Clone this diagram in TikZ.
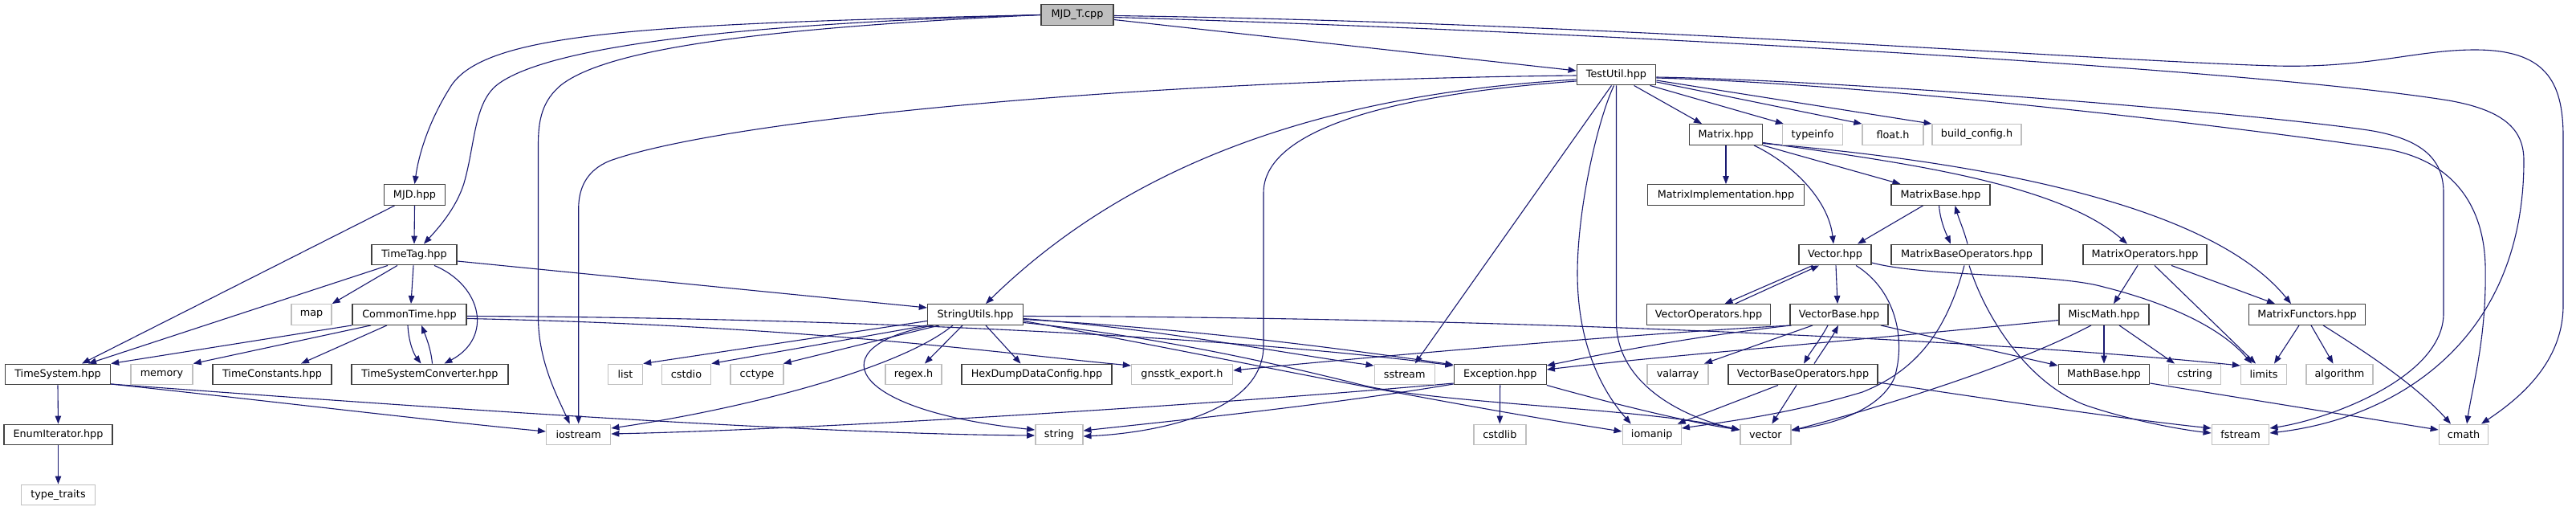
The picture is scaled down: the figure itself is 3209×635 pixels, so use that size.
\documentclass[tikz,border=0pt]{standalone}
\usepackage{fontspec}
\setmainfont{DejaVu Sans}
\usetikzlibrary{arrows.meta,backgrounds}
\definecolor{edgec}{HTML}{191970}
\definecolor{projc}{HTML}{404040}
\definecolor{sysc}{HTML}{BFBFBF}
\definecolor{rootc}{HTML}{BFBFBF}
\newcommand{\dxfont}{\fontsize{12.8pt}{15pt}\selectfont}
\tikzset{
  nbox/.style={rectangle, line width=1.4pt, minimum height=25.5pt, inner sep=0pt, font=\dxfont, fill=white},
  proj/.style={nbox, draw=projc},
  sys/.style={nbox, draw=sysc},
  rootn/.style={nbox, draw=projc, fill=rootc},
  dep/.style={draw=edgec, line width=1.1pt, -{Triangle[length=10pt,width=7.5pt]}}
}
\begin{document}
\begin{tikzpicture}[x=1pt,y=-1pt]
\useasboundingbox (0,0) rectangle (3209,635);
% row 0-1
\node[rootn, minimum width=90pt] (root) at (1342,18.5) {MJD\_T.cpp};
\node[proj, minimum width=98.5pt] (testutil) at (2013.5,93) {TestUtil.hpp};
% row 2
\node[proj, minimum width=91pt] (matrix) at (2150,167.5) {Matrix.hpp};
\node[sys, minimum width=75pt] (typeinfo) at (2258,167.5) {typeinfo};
\node[sys, minimum width=76pt] (floath) at (2358,167.5) {float.h};
\node[sys, minimum width=111pt] (buildconfig) at (2462.5,167.5) {build\_config.h};
% row 3
\node[proj, minimum width=76pt] (mjd) at (516.5,242.5) {MJD.hpp};
\node[proj, minimum width=195pt] (matriximpl) at (2150,242.5) {MatrixImplementation.hpp};
\node[proj, minimum width=123pt] (matrixbase) at (2417.5,242.5) {MatrixBase.hpp};
% row 4
\node[proj, minimum width=106pt] (timetag) at (516,317) {TimeTag.hpp};
\node[proj, minimum width=90pt] (vectorhpp) at (2286,317) {Vector.hpp};
\node[proj, minimum width=188pt] (matrixbaseops) at (2450,317) {MatrixBaseOperators.hpp};
\node[proj, minimum width=154pt] (matrixops) at (2672,317) {MatrixOperators.hpp};
% row 5
\node[sys, minimum width=50pt] (map) at (388,391.5) {map};
\node[proj, minimum width=142pt] (commontime) at (510,391.5) {CommonTime.hpp};
\node[proj, minimum width=119pt] (stringutils) at (1215,391.5) {StringUtils.hpp};
\node[proj, minimum width=154pt] (vectorops) at (2128.5,391.5) {VectorOperators.hpp};
\node[proj, minimum width=122pt] (vectorbase) at (2291,391.5) {VectorBase.hpp};
\node[proj, minimum width=112pt] (miscmath) at (2621,391.5) {MiscMath.hpp};
\node[proj, minimum width=145pt] (matrixfunctors) at (2874,391.5) {MatrixFunctors.hpp};
% row 6
\node[proj, minimum width=131pt] (timesystem) at (72,466) {TimeSystem.hpp};
\node[sys, minimum width=77pt] (memory) at (201.5,466) {memory};
\node[proj, minimum width=148pt] (timeconst) at (339,466) {TimeConstants.hpp};
\node[proj, minimum width=195pt] (tsconv) at (535.5,466) {TimeSystemConverter.hpp};
\node[sys, minimum width=43pt] (list) at (779,466) {list};
\node[sys, minimum width=61pt] (cstdio) at (855,466) {cstdio};
\node[sys, minimum width=66pt] (cctype) at (943,466) {cctype};
\node[sys, minimum width=70pt] (regex) at (1138,466) {regex.h};
\node[proj, minimum width=187pt] (hexdump) at (1291.5,466) {HexDumpDataConfig.hpp};
\node[sys, minimum width=126pt] (gnsstk) at (1472.5,466) {gnsstk\_export.h};
\node[sys, minimum width=75pt] (sstream) at (1749.7,466) {sstream};
\node[proj, minimum width=115pt] (exception) at (1868.7,466) {Exception.hpp};
\node[sys, minimum width=76pt] (valarray) at (2090,466) {valarray};
\node[proj, minimum width=186pt] (vbops) at (2246,466) {VectorBaseOperators.hpp};
\node[proj, minimum width=113.5pt] (mathbase) at (2621,466) {MathBase.hpp};
\node[sys, minimum width=65pt] (cstring) at (2734,466) {cstring};
\node[sys, minimum width=57pt] (limits) at (2820,466) {limits};
\node[sys, minimum width=83pt] (algorithm) at (2914.5,466) {algorithm};
% row 7
\node[proj, minimum width=135pt] (enumiter) at (72.5,541) {EnumIterator.hpp};
\node[sys, minimum width=80pt] (iostream) at (720.7,541) {iostream};
\node[sys, minimum width=59pt] (string) at (1319.3,541) {string};
\node[sys, minimum width=65pt] (cstdlib) at (1868.3,541) {cstdlib};
\node[sys, minimum width=73pt] (iomanip) at (2057.7,541) {iomanip};
\node[sys, minimum width=63pt] (vector) at (2199.3,541) {vector};
\node[sys, minimum width=71.5pt] (fstream) at (2791,541) {fstream};
\node[sys, minimum width=61.5pt] (cmath) at (3069,541) {cmath};
% row 8
\node[sys, minimum width=92pt] (typetraits) at (72.5,616) {type\_traits};

\begin{scope}[on background layer]
\fill[white] (0,0) rectangle (3209,635);
% MJD_T.cpp
\draw[dep] (root.west) .. controls (800,30) and (600,40) .. (560,110) .. controls (535,150) and (522,190) .. (mjd.north);
\draw[dep] (root.west) .. controls (900,30) and (680,60) .. (620,105) .. controls (590,128) and (592,180) .. (578,228) .. controls (568,260) and (545,285) .. ([xshift=12pt]timetag.north);
\draw[dep] (root.west) .. controls (950,35) and (760,60) .. (700,105) .. controls (675,125) and (670.5,150) .. (670.5,180) -- (670.5,395) .. controls (670.5,450) and (695,495) .. ([xshift=-11pt]iostream.north);
\draw[dep] ([yshift=-6pt]root.east) -- ([yshift=5pt]testutil.west);
\draw[dep] ([yshift=-3pt]root.east) .. controls (2000,40) and (2800,85) .. (3050,125) .. controls (3125,138) and (3144,165) .. (3144,200) .. controls (3144,420) and (2990,520) .. ([yshift=2pt]fstream.east);
\draw[dep] ([yshift=-1pt]root.east) .. controls (2000,28) and (2600,75) .. (2834,82) .. controls (2950,85) and (3010,62) .. (3083,62) .. controls (3170,62) and (3193,100) .. (3193,170) -- (3193,380) .. controls (3193,450) and (3140,495) .. ([xshift=22pt]cmath.north);
% TestUtil.hpp
\draw[dep] ([yshift=-6pt]testutil.west) .. controls (1600,120) and (1380,230) .. ([xshift=13pt]stringutils.north);
\draw[dep] ([yshift=-1pt]testutil.west) .. controls (1400,100) and (900,150) .. (760,200) .. controls (730,212) and (720.7,235) .. (720.7,260) -- (iostream.north);
\draw[dep] ([yshift=-8pt]testutil.west) .. controls (1700,120) and (1574,170) .. (1574,240) -- (1574,430) .. controls (1574,520) and (1420,540) .. ([yshift=-2pt]string.east);
\draw[dep] ([xshift=-6pt]testutil.south) -- ([xshift=13pt]sstream.north);
\draw[dep] ([xshift=-3pt]testutil.south) .. controls (1990,150) and (1965,260) .. (1965,340) .. controls (1965,420) and (1990,480) .. ([xshift=-26pt]iomanip.north);
\draw[dep] (testutil.south) -- (2013.5,400) .. controls (2013.5,480) and (2100,520) .. ([yshift=6pt]vector.west);
\draw[dep] ([xshift=22pt]testutil.south) -- ([xshift=-30pt]matrix.north);
\draw[dep] ([xshift=42pt]testutil.south) -- ([xshift=2pt]typeinfo.north west);
\draw[dep] ([yshift=-9pt]testutil.east) -- (floath.north west);
\draw[dep] ([yshift=-7pt]testutil.east) -- (buildconfig.north west);
\draw[dep] ([yshift=-3pt]testutil.east) .. controls (2300,100) and (2800,140) .. (2950,162) .. controls (3020,173) and (3044,200) .. (3044,240) -- (3044,390) .. controls (3044,470) and (2900,522) .. ([yshift=8pt]fstream.east);
\draw[dep] ([yshift=-4pt]testutil.east) .. controls (2350,105) and (2800,160) .. (2970,185) .. controls (3060,200) and (3094,260) .. (3096,330) .. controls (3098,420) and (3080,480) .. ([xshift=4pt]cmath.north);
% Matrix.hpp
\draw[dep] (matrix.south) -- (matriximpl.north);
\draw[dep] ([xshift=35pt]matrix.south) .. controls (2235,205) and (2278,250) .. ([xshift=-2pt]vectorhpp.north);
\draw[dep] (matrix.south east) -- ([xshift=-50pt]matrixbase.north);
\draw[dep] ([yshift=-10pt]matrix.east) .. controls (2350,200) and (2560,225) .. ([xshift=-22pt]matrixops.north);
\draw[dep] ([yshift=-11pt]matrix.east) .. controls (2450,200) and (2750,250) .. ([xshift=-20pt]matrixfunctors.north);
% MatrixBase / MatrixBaseOperators
\draw[dep] ([xshift=-22pt]matrixbase.south) -- ([xshift=28pt]vectorhpp.north);
\draw[dep] ([xshift=-2pt]matrixbase.south) .. controls (2417,275) and (2424,290) .. ([xshift=-20pt]matrixbaseops.north);
\draw[dep] ([xshift=1pt]matrixbaseops.north) .. controls (2446,285) and (2440,272) .. ([xshift=18pt]matrixbase.south);
\draw[dep] ([xshift=-3pt]matrixbaseops.south) .. controls (2425,410) and (2390,460) .. (2320,488) .. controls (2230,515) and (2150,525) .. ([yshift=8pt]iomanip.east);
\draw[dep] ([xshift=3pt]matrixbaseops.south) .. controls (2475,400) and (2530,480) .. (2600,505) .. controls (2660,525) and (2720,535) .. ([yshift=2pt]fstream.west);
% Vector.hpp
\draw[dep] ([xshift=1pt]vectorhpp.south) -- ([xshift=-2pt]vectorbase.north);
\draw[dep] ([xshift=-28pt]vectorhpp.south) -- ([xshift=20pt]vectorops.north);
\draw[dep] ([xshift=33pt]vectorops.north) -- ([xshift=-20pt]vectorhpp.south);
\draw[dep] ([xshift=26pt]vectorhpp.south) .. controls (2360,360) and (2375,420) .. (2360,470) .. controls (2340,515) and (2270,530) .. ([yshift=6pt]vector.east);
\draw[dep] ([yshift=-10pt]vectorhpp.east) .. controls (2400,345) and (2560,340) .. (2620,357) .. controls (2680,372) and (2760,400) .. ([xshift=-15pt]limits.north);
% VectorBase.hpp
\draw[dep] ([xshift=-14pt]vectorbase.south) .. controls (2268,422) and (2256,437) .. ([xshift=1pt]vbops.north);
\draw[dep] ([xshift=14pt]vbops.north) .. controls (2270,437) and (2282,420) .. ([xshift=-1pt]vectorbase.south);
\draw[dep] ([xshift=-33pt]vectorbase.south) -- ([xshift=33pt]valarray.north);
\draw[dep] ([xshift=2pt]vectorbase.south west) .. controls (2100,420) and (2000,440) .. ([yshift=11pt]exception.east);
\draw[dep] ([xshift=2pt]vectorbase.south west) .. controls (2000,418) and (1700,445) .. ([yshift=5pt]gnsstk.east);
\draw[dep] ([xshift=52pt]vectorbase.south) -- ([yshift=11pt]mathbase.west);
% VectorBaseOperators.hpp
\draw[dep] ([xshift=-31pt]vbops.south) -- ([xshift=32pt]iomanip.north);
\draw[dep] ([xshift=-8pt]vbops.south) -- ([xshift=8pt]vector.north);
\draw[dep] ([yshift=-10pt]vbops.east) .. controls (2500,500) and (2650,522) .. ([yshift=8pt]fstream.west);
% MiscMath.hpp
\draw[dep] ([yshift=-7pt]miscmath.west) .. controls (2300,425) and (2050,445) .. ([yshift=6pt]exception.east);
\draw[dep] (miscmath.south) -- (mathbase.north);
\draw[dep] ([xshift=19pt]miscmath.south) -- ([xshift=-25pt]cstring.north);
\draw[dep] ([xshift=-16pt]miscmath.south) .. controls (2500,460) and (2330,510) .. ([yshift=5pt]vector.east);
% MatrixOperators / MatrixFunctors / MathBase
\draw[dep] ([xshift=-9pt]matrixops.south) -- ([xshift=12pt]miscmath.north);
\draw[dep] ([xshift=12pt]matrixops.south) -- ([xshift=-10pt]limits.north);
\draw[dep] ([xshift=33pt]matrixops.south) -- ([xshift=-40pt]matrixfunctors.north);
\draw[dep] ([xshift=-10pt]matrixfunctors.south) -- ([xshift=13pt]limits.north);
\draw[dep] ([xshift=5pt]matrixfunctors.south) -- ([xshift=-8pt]algorithm.north);
\draw[dep] ([xshift=20pt]matrixfunctors.south) .. controls (2950,440) and (3010,480) .. ([xshift=-16pt]cmath.north);
\draw[dep] ([yshift=-11pt]mathbase.east) -- ([yshift=6pt]cmath.west);
% Exception.hpp
\draw[dep] (exception.south) -- (cstdlib.north);
\draw[dep] (exception.south east) .. controls (2000,500) and (2100,525) .. ([yshift=6pt]vector.west);
\draw[dep] ([yshift=-11pt]exception.west) .. controls (1500,505) and (1000,535) .. ([yshift=1pt]iostream.east);
\draw[dep] ([yshift=-12pt]exception.west) .. controls (1650,505) and (1450,525) .. ([yshift=5pt]string.east);
% StringUtils.hpp
\draw[dep] ([yshift=-8pt]stringutils.west) -- (list.north east);
\draw[dep] (stringutils.south west) -- (cstdio.north east);
\draw[dep] ([xshift=15pt]stringutils.south west) -- ([xshift=-1pt]cctype.north east);
\draw[dep] ([xshift=-16pt]stringutils.south) -- ([xshift=14pt]regex.north);
\draw[dep] ([xshift=13pt]stringutils.south) -- ([xshift=-20pt]hexdump.north);
\draw[dep] ([xshift=-28pt]stringutils.south) .. controls (1120,460) and (920,510) .. ([yshift=8pt]iostream.east);
\draw[dep] ([xshift=-52pt]stringutils.south) .. controls (1020,430) and (1050,510) .. ([yshift=6pt]string.west);
\draw[dep] ([yshift=-2pt]stringutils.east) .. controls (1900,395) and (2500,425) .. ([yshift=11pt]limits.west);
\draw[dep] ([yshift=-5pt]stringutils.east) .. controls (1450,410) and (1600,440) .. ([yshift=11pt]sstream.west);
\draw[dep] ([yshift=-6pt]stringutils.east) .. controls (1500,410) and (1700,438) .. ([yshift=12pt]exception.west);
\draw[dep] ([yshift=-8pt]stringutils.east) .. controls (1500,440) and (1750,495) .. ([yshift=4pt]iomanip.west);
\draw[dep] ([yshift=-10pt]stringutils.east) .. controls (1450,420) and (1600,455) .. (1700,480) .. controls (1800,503) and (2050,508) .. ([yshift=6pt]vector.west);
% CommonTime.hpp
\draw[dep] ([yshift=-2pt]commontime.east) .. controls (1000,395) and (1500,415) .. ([yshift=11pt]exception.west);
\draw[dep] ([yshift=-5pt]commontime.east) .. controls (1000,405) and (1250,440) .. ([yshift=11pt]gnsstk.west);
\draw[dep] (commontime.south west) -- (timesystem.north east);
\draw[dep] ([xshift=-48pt]commontime.south) -- (memory.north east);
\draw[dep] ([xshift=-28pt]commontime.south) -- ([xshift=36pt]timeconst.north);
\draw[dep] ([xshift=-2pt]commontime.south) .. controls (509,425) and (515,440) .. ([xshift=-11pt]tsconv.north);
\draw[dep] ([xshift=3pt]tsconv.north) .. controls (537,435) and (531,420) .. ([xshift=15pt]commontime.south);
% TimeTag.hpp
\draw[dep] ([yshift=-8pt]timetag.east) -- ([yshift=8.5pt]stringutils.west);
\draw[dep] ([xshift=-33pt]timetag.south) -- ([xshift=38pt]timesystem.north);
\draw[dep] ([xshift=-21pt]timetag.south) -- (map.north east);
\draw[dep] ([xshift=-1pt]timetag.south) -- ([xshift=2pt]commontime.north);
\draw[dep] ([xshift=25pt]timetag.south) .. controls (600,355) and (615,420) .. ([xshift=18pt]tsconv.north);
% MJD.hpp
\draw[dep] (mjd.south) -- (timetag.north);
\draw[dep] ([xshift=-25pt]mjd.south) -- ([xshift=30pt]timesystem.north);
% TimeSystem.hpp / EnumIterator.hpp
\draw[dep] (timesystem.south) -- (enumiter.north);
\draw[dep] (enumiter.south) -- (typetraits.north);
\draw[dep] ([yshift=-12pt]timesystem.east) .. controls (300,495) and (550,525) .. ([yshift=4pt]iostream.west);
\draw[dep] ([yshift=-12pt]timesystem.east) .. controls (500,505) and (1000,540) .. ([yshift=-1pt]string.west);
\end{scope}
\end{tikzpicture}
\end{document}
